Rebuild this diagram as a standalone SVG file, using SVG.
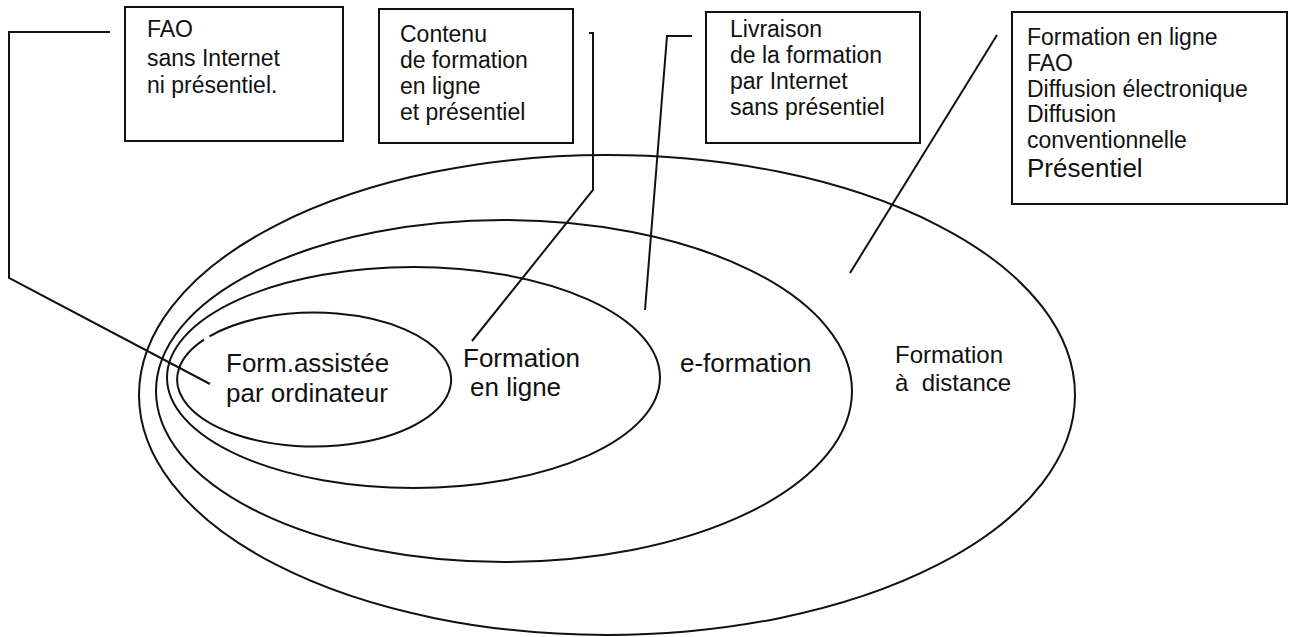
<svg xmlns="http://www.w3.org/2000/svg" width="1295" height="637" viewBox="0 0 1295 637">
<style>
.s{fill:none;stroke:#111;stroke-width:2}
.b{fill:#fff;stroke:#111;stroke-width:2}
.t{font-family:"Liberation Sans",Arial,sans-serif;fill:#111}
.bt{font-size:23px}
.et{font-size:26px}
</style>
<rect width="1295" height="637" fill="#fff"/>
<g id="ellipses">
<ellipse id="e-distance" class="s" cx="607" cy="395" rx="468" ry="240"/>
<ellipse id="e-eformation" class="s" cx="504" cy="391" rx="348" ry="171"/>
<ellipse id="e-enligne" class="s" cx="413.5" cy="377.5" rx="246.5" ry="110.5"/>
<path id="e-fao" class="s" d="M209.5,336.3 A137,67 0 1 1 204,339.7"/>
</g>
<g id="connectors" class="s">
<path d="M110,32 H9 V278 L210,384"/>
<path d="M589,33 H593 V190 L472,341"/>
<path d="M692,36 H667 L645,310"/>
<path d="M997,35 L850,273"/>
</g>
<g id="box1">
<rect class="b" x="125" y="7" width="218" height="134"/>
<text class="t bt" x="147" y="37">FAO</text>
<text class="t bt" x="147" y="66">sans Internet</text>
<text class="t bt" x="147" y="93">ni présentiel.</text>
</g>
<g id="box2">
<rect class="b" x="379" y="9" width="194" height="134"/>
<text class="t bt" x="400" y="42">Contenu</text>
<text class="t bt" x="400" y="68">de formation</text>
<text class="t bt" x="400" y="94">en ligne</text>
<text class="t bt" x="400" y="120">et présentiel</text>
</g>
<g id="box3">
<rect class="b" x="706" y="12" width="214" height="131"/>
<text class="t bt" x="730" y="37">Livraison</text>
<text class="t bt" x="730" y="63">de la formation</text>
<text class="t bt" x="730" y="89">par Internet</text>
<text class="t bt" x="730" y="115">sans présentiel</text>
</g>
<g id="box4">
<rect class="b" x="1012" y="12" width="275" height="192"/>
<text class="t bt" x="1027" y="45">Formation en ligne</text>
<text class="t bt" x="1027" y="71">FAO</text>
<text class="t bt" x="1027" y="97">Diffusion électronique</text>
<text class="t bt" x="1027" y="122">Diffusion</text>
<text class="t bt" x="1027" y="148">conventionnelle</text>
<text class="t" x="1027" y="177" font-size="26">Présentiel</text>
</g>
<g id="label-fao">
<text class="t et" x="226" y="372">Form.assistée</text>
<text class="t et" x="226" y="402">par ordinateur</text>
</g>
<g id="label-enligne">
<text class="t et" x="463" y="367">Formation</text>
<text class="t et" x="470" y="396">en ligne</text>
</g>
<g id="label-eformation">
<text class="t et" x="680" y="372">e-formation</text>
</g>
<g id="label-distance">
<text class="t" font-size="24" x="895" y="363">Formation</text>
<text class="t" font-size="24" x="895" y="391" xml:space="preserve">à  distance</text>
</g>
</svg>
